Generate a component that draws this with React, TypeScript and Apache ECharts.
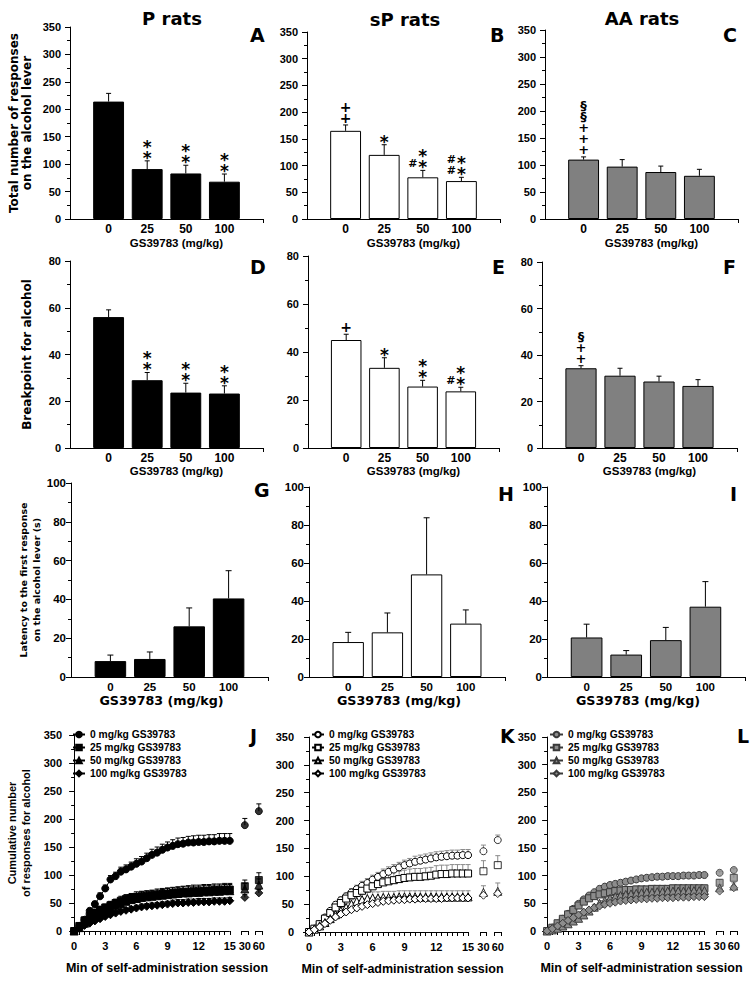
import React, { useEffect, useRef } from "react";
import * as echarts from "echarts";

// ---------- labels ----------
const doseCategories = ["", "0", "25", "50", "100", ""];
const strainTitles = ["P rats", "sP rats", "AA rats"];
const panelLetters = ["A", "B", "C", "D", "E", "F", "G", "H", "I", "J", "K", "L"];
const doseAxisName = "GS39783 (mg/kg)";
const timeAxisName = "Min of self-administration session";
const yNameTotal = "Total number of responses\non the alcohol lever";
const yNameBreakpoint = "Breakpoint for alcohol";
const yNameLatency = "Latency to the first response\non the alcohol lever (s)";
const yNameCumulative = "Cumulative number\nof responses for alcohol";
const legendLabels = ["0 mg/kg GS39783", "25 mg/kg GS39783", "50 mg/kg GS39783", "100 mg/kg GS39783"];

// ---------- total responses (A-C) ----------
const totalP = [214, 91, 83, 68];
const totalPSem = [15, 15, 15, 14];
const totalSP = [165, 120, 78, 71];
const totalSPSem = [11, 19, 13, 7];
const totalAA = [110, 97, 87, 80];
const totalAASem = [5, 13, 11, 12];
const sigTotalP = ["", "**", "**", "**"];
const sigTotalPLeft = ["", "", "", ""];
const sigTotalSP = ["++", "*", "**", "**"];
const sigTotalSPLeft = ["", "", "#", "##"];
const sigTotalAA = ["§§+++", "", "", ""];
const sigTotalAALeft = ["", "", "", ""];

// ---------- breakpoint (D-F) ----------
const bpP = [56, 29, 23.7, 23.3];
const bpPSem = [3.1, 3.3, 4, 3.3];
const bpSP = [45, 33.4, 25.6, 23.6];
const bpSPSem = [2.4, 4.2, 2.6, 1.7];
const bpAA = [34.3, 31.1, 28.6, 26.7];
const bpAASem = [1.1, 3.2, 2.3, 2.7];
const sigBpP = ["", "**", "**", "**"];
const sigBpPLeft = ["", "", "", ""];
const sigBpSP = ["+", "*", "**", "**"];
const sigBpSPLeft = ["", "", "", "#"];
const sigBpAA = ["§++", "", "", ""];
const sigBpAALeft = ["", "", "", ""];

// ---------- latency (G-I) ----------
const latP = [8.2, 9.3, 26.1, 40.5];
const latPSem = [3.1, 3.6, 9.5, 14.3];
const latSP = [18.4, 23.5, 54, 28.1];
const latSPSem = [5.1, 10.2, 29.8, 7.2];
const latAA = [20.8, 11.8, 19.4, 37];
const latAASem = [7, 2.1, 6.7, 13.2];
const noSig = ["", "", "", ""];

// ---------- cumulative responses (J-L) ----------
const minutes = [0, 0.5, 1, 1.5, 2, 2.5, 3, 3.5, 4, 4.5, 5, 5.5, 6, 6.5, 7, 7.5, 8, 8.5, 9, 9.5, 10, 10.5, 11, 11.5, 12, 12.5, 13, 13.5, 14, 14.5, 15];
const timeTickLabels = [0, 3, 6, 9, 12, 15];
const lateLabels = ["30", "60"];

const cumP0 = [0, 9, 20, 36, 48, 62, 76, 92, 98, 106, 110, 115, 120, 124, 130, 136, 140, 145, 149, 152, 155, 156, 158, 158, 159, 159, 160, 160, 161, 161, 161];
const cumP0Sem = [0, 2, 3, 4, 5, 6, 6, 7, 7, 8, 8, 8, 9, 9, 9, 10, 10, 10, 10, 11, 11, 11, 11, 12, 12, 12, 12, 12, 13, 13, 13];
const lateP0 = [189, 214];
const lateP0Sem = [12, 13];
const cumP25 = [0, 9, 19, 27, 33, 38, 42, 46, 50, 54, 57, 59, 61, 62, 63, 64, 65, 66, 67, 68, 69, 70, 70, 71, 71, 72, 72, 73, 73, 74, 74];
const cumP25Sem = [0, 2, 3, 4, 5, 6, 6, 7, 7, 8, 8, 8, 9, 9, 9, 9, 10, 10, 10, 10, 10, 10, 11, 11, 11, 11, 11, 11, 11, 11, 11];
const lateP25 = [80, 91];
const lateP25Sem = [11, 13];
const cumP50 = [0, 6, 14, 21, 27, 32, 37, 41, 45, 49, 53, 56, 58, 60, 61, 62, 63, 64, 65, 66, 67, 68, 68, 69, 69, 70, 70, 71, 71, 72, 72];
const cumP50Sem = [0, 2, 3, 4, 5, 6, 7, 7, 8, 8, 9, 9, 9, 10, 10, 10, 10, 10, 11, 11, 11, 11, 11, 11, 11, 11, 11, 11, 11, 11, 11];
const lateP50 = [75, 82];
const lateP50Sem = [10, 11];
const cumP100 = [0, 5, 10, 14, 18, 22, 26, 29, 32, 35, 37, 39, 41, 43, 44, 45, 46, 47, 48, 49, 50, 50, 51, 51, 52, 52, 52, 53, 53, 53, 54];
const cumP100Sem = [0, 1, 2, 2, 3, 3, 3, 4, 4, 4, 4, 5, 5, 5, 5, 5, 5, 5, 5, 6, 6, 6, 6, 6, 6, 6, 6, 6, 6, 6, 6];
const lateP100 = [60, 68];
const lateP100Sem = [5, 6];

const cumSP0 = [0, 6, 14, 26, 38, 49, 57, 64, 71, 77, 83, 88, 94, 99, 104, 108, 112, 116, 120, 123, 126, 128, 130, 132, 134, 135, 136, 137, 137, 138, 138];
const cumSP0Sem = [0, 1, 2, 3, 4, 5, 6, 6, 7, 7, 8, 8, 8, 8, 9, 9, 9, 9, 9, 9, 10, 10, 10, 10, 10, 10, 10, 10, 10, 10, 10];
const lateSP0 = [145, 165];
const lateSP0Sem = [11, 9];
const cumSP25 = [0, 6, 14, 24, 34, 44, 52, 60, 66, 70, 74, 78, 82, 86, 89, 91, 93, 95, 97, 98, 99, 99, 100, 101, 103, 104, 104, 105, 105, 105, 105];
const cumSP25Sem = [0, 1, 2, 3, 4, 5, 6, 7, 8, 9, 10, 11, 12, 12, 13, 13, 14, 14, 14, 15, 15, 15, 15, 15, 16, 16, 16, 16, 16, 16, 16];
const lateSP25 = [109, 120];
const lateSP25Sem = [19, 17];
const cumSP50 = [0, 5, 11, 17, 24, 31, 38, 44, 50, 55, 58, 60, 61, 61, 62, 62, 62, 63, 63, 63, 63, 63, 63, 63, 63, 63, 63, 63, 63, 63, 63];
const cumSP50Sem = [0, 1, 2, 3, 4, 5, 6, 7, 8, 9, 10, 11, 11, 11, 11, 11, 11, 11, 11, 11, 11, 11, 11, 11, 11, 11, 11, 11, 11, 11, 11];
const lateSP50 = [71, 73];
const lateSP50Sem = [12, 15];
const cumSP100 = [0, 4, 9, 15, 21, 27, 32, 36, 40, 43, 46, 49, 51, 53, 55, 56, 57, 58, 58, 59, 59, 60, 60, 60, 60, 60, 61, 61, 61, 61, 61];
const cumSP100Sem = [0, 1, 1, 2, 2, 3, 3, 3, 3, 4, 4, 4, 4, 4, 4, 4, 4, 4, 4, 4, 4, 4, 4, 4, 4, 4, 4, 4, 4, 4, 4];
const lateSP100 = [66, 69];
const lateSP100Sem = [4, 5];

const cumAA0 = [0, 6, 13, 22, 31, 40, 49, 57, 64, 70, 76, 80, 83, 85, 87, 89, 91, 93, 95, 96, 97, 98, 98, 99, 99, 99, 100, 100, 100, 101, 101];
const cumAA0Sem = [0, 1, 1, 2, 2, 2, 3, 3, 3, 3, 3, 3, 3, 3, 3, 3, 3, 3, 3, 3, 3, 3, 3, 3, 3, 3, 3, 3, 3, 3, 3];
const lateAA0 = [105, 110];
const lateAA0Sem = [3, 3];
const cumAA25 = [0, 6, 14, 22, 30, 38, 46, 53, 59, 63, 66, 68, 70, 72, 73, 74, 74, 75, 75, 75, 76, 76, 76, 76, 77, 77, 77, 77, 77, 77, 77];
const cumAA25Sem = [0, 1, 2, 2, 3, 3, 4, 4, 5, 5, 5, 5, 5, 6, 6, 6, 6, 6, 6, 6, 6, 6, 6, 6, 6, 6, 6, 6, 6, 6, 6];
const lateAA25 = [87, 96];
const lateAA25Sem = [6, 6];
const cumAA50 = [0, 2, 5, 9, 13, 18, 23, 29, 36, 43, 50, 55, 59, 62, 64, 66, 67, 68, 69, 70, 70, 71, 71, 72, 72, 72, 72, 73, 73, 73, 73];
const cumAA50Sem = [0, 1, 1, 2, 2, 3, 3, 4, 4, 5, 5, 5, 6, 6, 6, 6, 6, 6, 6, 6, 6, 6, 6, 6, 6, 6, 6, 6, 6, 6, 6];
const lateAA50 = [78, 81];
const lateAA50Sem = [6, 6];
const cumAA100 = [0, 4, 9, 14, 19, 24, 29, 34, 38, 42, 45, 48, 50, 52, 54, 55, 56, 57, 58, 58, 59, 59, 60, 60, 60, 61, 61, 61, 62, 62, 62];
const cumAA100Sem = [0, 1, 1, 2, 2, 2, 3, 3, 3, 3, 3, 3, 3, 4, 4, 4, 4, 4, 4, 4, 4, 4, 4, 4, 4, 4, 4, 4, 4, 4, 4];
const lateAA100 = [72, 78];
const lateAA100Sem = [4, 4];

// ---------- layout (positions / styles only) ----------
const FONT_SANS = "'Liberation Sans', Arial, sans-serif";
const FONT_WIDE = "'DejaVu Sans', sans-serif";

const barLayout = [
  { left: 70, top: 27, width: 193, height: 192 },
  { left: 307, top: 32, width: 193, height: 187 },
  { left: 545, top: 30, width: 193, height: 189 },
  { left: 70, top: 261, width: 193, height: 187 },
  { left: 308, top: 256, width: 191, height: 192 },
  { left: 542, top: 262, width: 195, height: 186 },
  { left: 71, top: 483, width: 197, height: 194 },
  { left: 309, top: 487, width: 196, height: 190 },
  { left: 547, top: 487, width: 198, height: 190 },
];
const lineLayout = [
  { left: 71, top: 735, width: 192, height: 196, xMin: -0.3, legendLeft: 72, legendItemW: 12 },
  { left: 303, top: 737, width: 199, height: 195, xMin: -0.57, legendLeft: 311, legendItemW: 12 },
  { left: 545, top: 737, width: 193, height: 194, xMin: -0.2, legendLeft: 549, legendItemW: 13 },
];
const timeAxisMax = 18.2;
const latePos = [16.45, 17.8];
const lateTickEnds = [16.15, 16.75, 17.5, 18.1];

const titlePos = [
  { x: 172, y: 18 },
  { x: 405, y: 19 },
  { x: 642, y: 18 },
];
const letterPos = [
  { x: 250, y: 35 }, { x: 490, y: 35 }, { x: 723, y: 35 },
  { x: 250, y: 267 }, { x: 492, y: 267 }, { x: 723, y: 267 },
  { x: 254, y: 490 }, { x: 498, y: 494 }, { x: 730, y: 494 },
  { x: 250, y: 736 }, { x: 500, y: 736 }, { x: 737, y: 736 },
];

const barFills = ["#000000", "#ffffff", "#808080"];

const measures = [
  {
    vals: [totalP, totalSP, totalAA],
    sems: [totalPSem, totalSPSem, totalAASem],
    sigC: [sigTotalP, sigTotalSP, sigTotalAA],
    sigL: [sigTotalPLeft, sigTotalSPLeft, sigTotalAALeft],
    max: 350, interval: 50, name: yNameTotal,
  },
  {
    vals: [bpP, bpSP, bpAA],
    sems: [bpPSem, bpSPSem, bpAASem],
    sigC: [sigBpP, sigBpSP, sigBpAA],
    sigL: [sigBpPLeft, sigBpSPLeft, sigBpAALeft],
    max: 80, interval: 20, name: yNameBreakpoint,
  },
  {
    vals: [latP, latSP, latAA],
    sems: [latPSem, latSPSem, latAASem],
    sigC: [noSig, noSig, noSig],
    sigL: [noSig, noSig, noSig],
    max: 100, interval: 20, name: yNameLatency,
  },
];

const cumulative = [
  [
    { vals: cumP0, sem: cumP0Sem, late: lateP0, lateSem: lateP0Sem },
    { vals: cumP25, sem: cumP25Sem, late: lateP25, lateSem: lateP25Sem },
    { vals: cumP50, sem: cumP50Sem, late: lateP50, lateSem: lateP50Sem },
    { vals: cumP100, sem: cumP100Sem, late: lateP100, lateSem: lateP100Sem },
  ],
  [
    { vals: cumSP0, sem: cumSP0Sem, late: lateSP0, lateSem: lateSP0Sem },
    { vals: cumSP25, sem: cumSP25Sem, late: lateSP25, lateSem: lateSP25Sem },
    { vals: cumSP50, sem: cumSP50Sem, late: lateSP50, lateSem: lateSP50Sem },
    { vals: cumSP100, sem: cumSP100Sem, late: lateSP100, lateSem: lateSP100Sem },
  ],
  [
    { vals: cumAA0, sem: cumAA0Sem, late: lateAA0, lateSem: lateAA0Sem },
    { vals: cumAA25, sem: cumAA25Sem, late: lateAA25, lateSem: lateAA25Sem },
    { vals: cumAA50, sem: cumAA50Sem, late: lateAA50, lateSem: lateAA50Sem },
    { vals: cumAA100, sem: cumAA100Sem, late: lateAA100, lateSem: lateAA100Sem },
  ],
];
const markerSymbols = ["circle", "rect", "triangle", "diamond"];
const markerSizes = [7, 7, 8, 8];
const strainMarker = [
  { fill: "#000000", edge: "#000000", line: "#000000", err: "#000000" },
  { fill: "#ffffff", edge: "#000000", line: "#000000", err: "#8a8a8a" },
  { fill: "#8c8c8c", edge: "#3a3a3a", line: "#3a3a3a", err: "#8a8a8a" },
];

// one stacked text per column of significance marks
const SIG_ROW = 11;
const SIG_BOTTOM = 7;
const SIG_LEFT = 10;
function stackStyle(str: string) {
  if (str.includes("*")) return { size: 17, dy: 4 };
  if (str.includes("§")) return { size: 13, dy: 0 };
  if (str.includes("+")) return { size: 14, dy: 0 };
  return { size: 11, dy: 0 };
}

function errRender(color: string, capHalf: number) {
  return (params: any, api: any) => {
    const x = api.value(0);
    const y = api.value(1);
    const e = api.value(2);
    const p0 = api.coord([x, y]);
    const p1 = api.coord([x, y + e]);
    const style = { stroke: color, lineWidth: 1, fill: null };
    return {
      type: "group",
      children: [
        { type: "line", shape: { x1: p0[0], y1: p0[1], x2: p1[0], y2: p1[1] }, style },
        { type: "line", shape: { x1: p1[0] - capHalf, y1: p1[1], x2: p1[0] + capHalf, y2: p1[1] }, style },
      ],
    };
  };
}

function sigRender(center: string[], left: string[]) {
  return (params: any, api: any) => {
    const i = params.dataIndex;
    const p = api.coord([api.value(0), api.value(1)]);
    const children: any[] = [];
    const addColumn = (str: string, dx: number) => {
      if (!str) return;
      const chars = Array.from(str);
      const g = stackStyle(str);
      children.push({
        type: "text",
        x: p[0] + dx,
        y: p[1] - SIG_BOTTOM + SIG_ROW / 2 + g.dy,
        style: {
          text: chars.join("\n"),
          fill: "#000",
          fontFamily: FONT_WIDE,
          fontWeight: "bold",
          fontSize: g.size,
          lineHeight: SIG_ROW,
          align: "center",
          verticalAlign: "bottom",
        },
      });
    };
    addColumn(center[i], 0);
    addColumn(left[i], -SIG_LEFT);
    return { type: "group", children };
  };
}

function buildOption() {
  const grid: any[] = [];
  const xAxis: any[] = [];
  const yAxis: any[] = [];
  const series: any[] = [];
  const legend: any[] = [];
  const graphic: any[] = [];
  let gi = 0;

  measures.forEach((m, row) => {
    for (let col = 0; col < 3; col++) {
      const L = barLayout[row * 3 + col];
      const row3 = row === 2;
      grid.push({ left: L.left, top: L.top, width: L.width, height: L.height });
      xAxis.push({
        gridIndex: gi,
        type: "category",
        data: doseCategories,
        boundaryGap: false,
        axisLine: { show: true, onZero: false, lineStyle: { color: "#000", width: 1 } },
        axisTick: {
          show: true,
          length: 4,
          interval: (i: number) => i === doseCategories.length - 1,
          lineStyle: { color: "#000" },
        },
        axisLabel: {
          show: true,
          interval: 0,
          color: "#000",
          fontWeight: "bold",
          margin: 4,
          fontFamily: FONT_SANS,
          fontSize: row3 ? 11.5 : 12,
        },
        splitLine: { show: false },
        name: doseAxisName,
        nameLocation: "middle",
        nameGap: row3 ? 16 : row === 0 ? 18 : 16,
        nameTextStyle: {
          color: "#000",
          fontWeight: "bold",
          fontFamily: row3 ? FONT_WIDE : FONT_SANS,
          fontSize: row3 ? 12.7 : 11.5,
          padding: row3 ? [0, 16, 0, 0] : [0, 0, 0, 20],
        },
      });
      yAxis.push({
        gridIndex: gi,
        type: "value",
        min: 0,
        max: m.max,
        interval: m.interval,
        axisLine: { show: true, lineStyle: { color: "#000", width: 1 } },
        axisTick: { show: true, inside: false, length: 5, lineStyle: { color: "#000" } },
        minorTick: { show: true, splitNumber: 2, length: 3, lineStyle: { color: "#000" } },
        splitLine: { show: false },
        minorSplitLine: { show: false },
        axisLabel: {
          color: "#000",
          fontWeight: "bold",
          margin: row3 ? 5 : 9,
          fontFamily: FONT_SANS,
          fontSize: row3 ? 11.5 : 11,
        },
        name: col === 0 ? m.name : "",
        nameLocation: "middle",
        nameRotate: 90,
        nameGap: row3 ? 25 : 37,
        nameTextStyle: {
          color: "#000",
          fontWeight: "bold",
          fontFamily: FONT_WIDE,
          fontSize: row3 ? 9.5 : 12,
          lineHeight: row3 ? 13 : 12.5,
        },
      });
      const vals = m.vals[col];
      const sems = m.sems[col];
      series.push({
        type: "bar",
        xAxisIndex: gi,
        yAxisIndex: gi,
        data: vals.map((v, i) => [i + 1, v]),
        barWidth: "80%",
        itemStyle: { color: barFills[col], borderColor: "#000", borderWidth: 1 },
        silent: true,
        z: 2,
      });
      series.push({
        type: "custom",
        xAxisIndex: gi,
        yAxisIndex: gi,
        silent: true,
        z: 3,
        renderItem: errRender("#000", row3 ? 3 : 2.5),
        encode: { x: 0, y: 1 },
        data: vals.map((v, i) => [i + 1, v, sems[i]]),
      });
      const sc = m.sigC[col];
      const sl = m.sigL[col];
      if (sc.some((s) => s) || sl.some((s) => s)) {
        series.push({
          type: "custom",
          xAxisIndex: gi,
          yAxisIndex: gi,
          silent: true,
          z: 4,
          renderItem: sigRender(sc, sl),
          encode: { x: 0, y: 1 },
          data: vals.map((v, i) => [i + 1, v + sems[i]]),
        });
      }
      gi++;
    }
  });

  lineLayout.forEach((L, col) => {
    const letter = panelLetters[9 + col];
    const st = strainMarker[col];
    grid.push({ left: L.left, top: L.top, width: L.width, height: L.height });
    xAxis.push({
      gridIndex: gi,
      type: "value",
      min: L.xMin,
      max: timeAxisMax,
      axisLine: { show: false },
      axisTick: {
        show: true,
        length: 4,
        customValues: [...minutes, ...lateTickEnds],
        lineStyle: { color: "#000" },
      },
      axisLabel: {
        show: true,
        customValues: [...timeTickLabels, ...latePos],
        formatter: (v: number) => {
          const k = latePos.indexOf(v);
          return k >= 0 ? lateLabels[k] : String(v);
        },
        color: "#000",
        fontWeight: "bold",
        fontFamily: FONT_SANS,
        fontSize: 11,
        margin: 9,
      },
      splitLine: { show: false },
      name: timeAxisName,
      nameLocation: "middle",
      nameGap: 30,
      nameTextStyle: { color: "#000", fontWeight: "bold", fontFamily: FONT_SANS, fontSize: 12.5 },
    });
    yAxis.push({
      gridIndex: gi,
      type: "value",
      min: 0,
      max: 350,
      interval: 50,
      axisLine: { show: true, lineStyle: { color: "#000", width: 1 } },
      axisTick: { show: true, length: 5, lineStyle: { color: "#000" } },
      minorTick: { show: true, splitNumber: 2, length: 3, lineStyle: { color: "#000" } },
      splitLine: { show: false },
      axisLabel: { color: "#000", fontWeight: "bold", margin: 9, fontFamily: FONT_SANS, fontSize: 11 },
      name: col === 0 ? yNameCumulative : "",
      nameLocation: "middle",
      nameRotate: 90,
      nameGap: 38,
      nameTextStyle: { color: "#000", fontWeight: "bold", fontFamily: FONT_SANS, fontSize: 11, lineHeight: 14 },
    });
    const legendNames: string[] = [];
    cumulative[col].forEach((d, k) => {
      const name = `${letter}|${legendLabels[k]}`;
      legendNames.push(name);
      const itemStyle = { color: st.fill, borderColor: st.edge, borderWidth: 1 };
      series.push({
        type: "custom",
        xAxisIndex: gi,
        yAxisIndex: gi,
        silent: true,
        z: 1,
        renderItem: errRender(st.err, 2.5),
        encode: { x: 0, y: 1 },
        data: [
          ...minutes.map((t, i) => [t, d.vals[i], d.sem[i]]),
          ...latePos.map((p, i) => [p, d.late[i], d.lateSem[i]]),
        ],
      });
      series.push({
        type: "line",
        name,
        xAxisIndex: gi,
        yAxisIndex: gi,
        data: minutes.map((t, i) => [t, d.vals[i]]),
        symbol: markerSymbols[k],
        symbolSize: markerSizes[k],
        showSymbol: true,
        showAllSymbol: true,
        lineStyle: { color: st.line, width: 1 },
        itemStyle,
        silent: true,
        z: 3 + k,
        markLine:
          k === 0
            ? {
                silent: true,
                symbol: ["none", "none"],
                label: { show: false },
                lineStyle: { color: "#000", width: 1, type: "solid" },
                data: [
                  [{ coord: [L.xMin, 0] }, { coord: [15, 0] }],
                  [{ coord: [lateTickEnds[0], 0] }, { coord: [lateTickEnds[1], 0] }],
                  [{ coord: [lateTickEnds[2], 0] }, { coord: [lateTickEnds[3], 0] }],
                ],
              }
            : undefined,
      });
      series.push({
        type: "scatter",
        name: `${letter}|late${k}`,
        xAxisIndex: gi,
        yAxisIndex: gi,
        data: latePos.map((p, i) => [p, d.late[i]]),
        symbol: markerSymbols[k],
        symbolSize: markerSizes[k],
        itemStyle,
        silent: true,
        z: 3 + k,
      });
    });
    legend.push({
      data: legendNames,
      orient: "vertical",
      left: L.legendLeft,
      top: 729,
      itemWidth: L.legendItemW,
      itemHeight: 7,
      itemGap: 2,
      selectedMode: false,
      padding: 0,
      formatter: (n: string) => n.split("|")[1],
      textStyle: { color: "#000", fontWeight: "bold", fontFamily: FONT_SANS, fontSize: 10.3, lineHeight: 11 },
    });
    gi++;
  });

  strainTitles.forEach((t, i) => {
    graphic.push({
      type: "text",
      x: titlePos[i].x,
      y: titlePos[i].y,
      style: {
        text: t,
        fill: "#000",
        fontFamily: FONT_WIDE,
        fontWeight: "bold",
        fontSize: 18,
        align: "center",
        verticalAlign: "middle",
      },
    });
  });
  panelLetters.forEach((l, i) => {
    graphic.push({
      type: "text",
      x: letterPos[i].x,
      y: letterPos[i].y,
      style: {
        text: l,
        fill: "#000",
        fontFamily: FONT_WIDE,
        fontWeight: "bold",
        fontSize: 19,
        align: "left",
        verticalAlign: "middle",
      },
    });
  });

  return {
    animation: false,
    backgroundColor: "#fff",
    grid,
    xAxis,
    yAxis,
    legend,
    series,
    graphic,
  };
}

export default function App() {
  const ref = useRef<HTMLDivElement>(null);
  useEffect(() => {
    if (!ref.current) return;
    const chart = echarts.init(ref.current, null, { renderer: "svg" });
    chart.setOption(buildOption() as any);
    return () => chart.dispose();
  }, []);
  return (
    <div
      ref={ref}
      style={{ position: "absolute", left: 0, top: 0, width: 753, height: 986, background: "#fff" }}
    />
  );
}
